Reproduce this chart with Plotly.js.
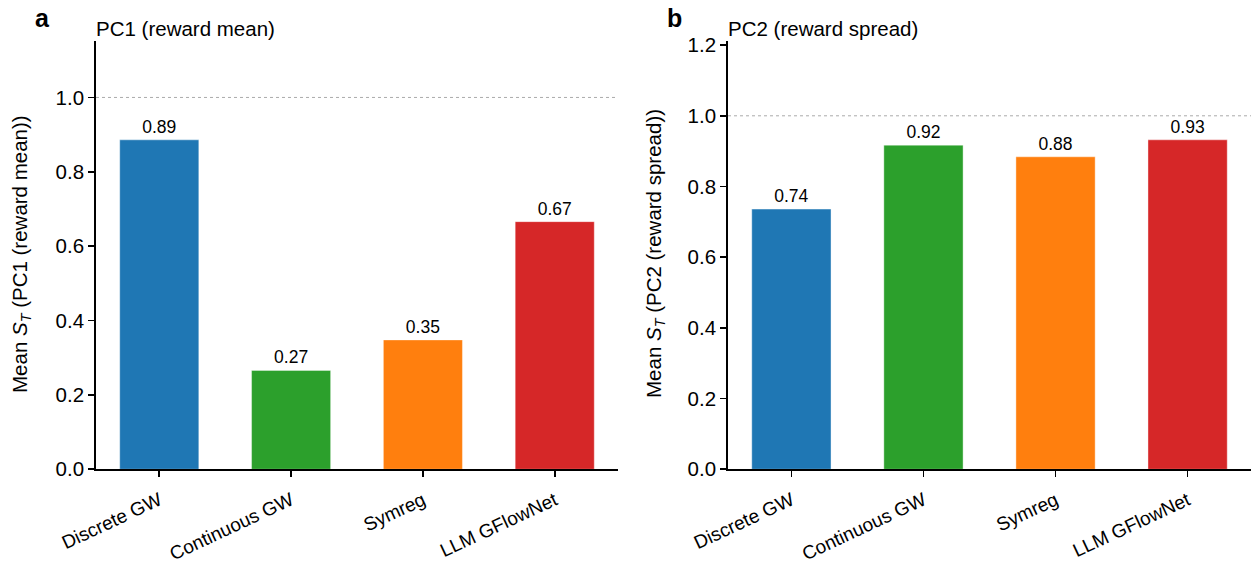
<!DOCTYPE html>
<html>
<head>
<meta charset="utf-8">
<script src="https://cdn.plot.ly/plotly-3.0.1.min.js"></script>
<style>html,body{margin:0;padding:0;background:#fff;}#chart{width:1253px;height:567px;}</style>
</head>
<body>
<div id="chart"></div>
<script>
const categories = ["Discrete GW", "Continuous GW", "Symreg", "LLM GFlowNet"];
const pc1Values = [0.886, 0.266, 0.348, 0.666];
const pc2Values = [0.736, 0.917, 0.884, 0.932];
const barColors = ["#1f77b4", "#2ca02c", "#ff7f0e", "#d62728"];
const yTicksA = [0, 0.2, 0.4, 0.6, 0.8, 1.0];
const yTicksB = [0, 0.2, 0.4, 0.6, 0.8, 1.0, 1.2];

const W = 1253, H = 567;
const FONT = "Liberation Sans, Arial, Helvetica, sans-serif";
const px = v => v / W;
const py = v => (H - v) / H;

function barTrace(vals, xa, ya) {
  return {
    type: "bar",
    x: categories.map((c, i) => i),
    y: vals,
    width: 0.6,
    marker: {color: barColors, line: {color: "rgba(255,255,255,0.5)", width: 0.8}},
    text: vals.map(v => v.toFixed(2)),
    textposition: "outside",
    cliponaxis: false,
    textfont: {family: FONT, size: 17.5, color: "#000"},
    xaxis: xa, yaxis: ya,
    hoverinfo: "skip"
  };
}

const yDomain = [py(469.3), py(41)];

function xAxis(domain, anchor) {
  return {
    domain: domain, anchor: anchor,
    range: [-0.48, 3.48],
    tickmode: "array",
    tickvals: categories.map((c, i) => i),
    ticktext: categories,
    tickangle: -25,
    ticklabelstandoff: 5,
    ticks: "outside", ticklen: 6, tickwidth: 1.6, tickcolor: "#000",
    showline: true, linecolor: "#000", linewidth: 1.8,
    showgrid: false, zeroline: false,
    tickfont: {family: FONT, size: 19, color: "#000"},
    fixedrange: true
  };
}
function yAxis(range, ticks, anchor) {
  return {
    domain: yDomain, anchor: anchor,
    range: range,
    tickmode: "array",
    tickvals: ticks,
    ticktext: ticks.map(t => t.toFixed(1)),
    ticks: "outside", ticklen: 6, tickwidth: 1.6, tickcolor: "#000",
    showline: true, linecolor: "#000", linewidth: 1.8,
    showgrid: false, zeroline: false,
    tickfont: {family: FONT, size: 20.5, color: "#000"},
    fixedrange: true
  };
}

const data = [barTrace(pc1Values, "x", "y"), barTrace(pc2Values, "x2", "y2")];

const layout = {
  width: W, height: H,
  margin: {l: 0, r: 0, t: 0, b: 0},
  paper_bgcolor: "#fff", plot_bgcolor: "#fff",
  showlegend: false,
  font: {family: FONT, color: "#000"},
  xaxis: xAxis([px(96), px(618)], "y"),
  yaxis: yAxis([0, 0.886 * 1.3], yTicksA, "x"),
  xaxis2: xAxis([px(728), px(1251)], "y2"),
  yaxis2: yAxis([0, 0.932 * 1.3], yTicksB, "x2"),
  shapes: [
    {type: "line", xref: "x domain", yref: "y", x0: 0, x1: 1, y0: 1, y1: 1,
     line: {color: "#aaaaaa", width: 1, dash: "dot"}, layer: "below"},
    {type: "line", xref: "x2 domain", yref: "y2", x0: 0, x1: 1, y0: 1, y1: 1,
     line: {color: "#aaaaaa", width: 1, dash: "dot"}, layer: "below"}
  ],
  annotations: [
    {text: "<b>a</b>", xref: "paper", yref: "paper", x: px(33), y: py(18), xanchor: "left", yanchor: "middle", showarrow: false, font: {family: FONT, size: 25, color: "#000"}},
    {text: "<b>b</b>", xref: "paper", yref: "paper", x: px(665), y: py(18), xanchor: "left", yanchor: "middle", showarrow: false, font: {family: FONT, size: 25, color: "#000"}},
    {text: "PC1 (reward mean)", xref: "paper", yref: "paper", x: px(94), y: py(28), xanchor: "left", yanchor: "middle", showarrow: false, font: {family: FONT, size: 20.5, color: "#000"}},
    {text: "PC2 (reward spread)", xref: "paper", yref: "paper", x: px(726), y: py(28), xanchor: "left", yanchor: "middle", showarrow: false, font: {family: FONT, size: 20.5, color: "#000"}},
    {text: "Mean <i>S<sub>T</sub></i> (PC1 (reward mean))", xref: "paper", yref: "paper", x: px(21), y: py(254), xanchor: "center", yanchor: "middle", textangle: -90, showarrow: false, font: {family: FONT, size: 20.5, color: "#000"}},
    {text: "Mean <i>S<sub>T</sub></i> (PC2 (reward spread))", xref: "paper", yref: "paper", x: px(655), y: py(254), xanchor: "center", yanchor: "middle", textangle: -90, showarrow: false, font: {family: FONT, size: 20.5, color: "#000"}}
  ]
};

Plotly.newPlot("chart", data, layout, {staticPlot: true, displayModeBar: false});
</script>
</body>
</html>
